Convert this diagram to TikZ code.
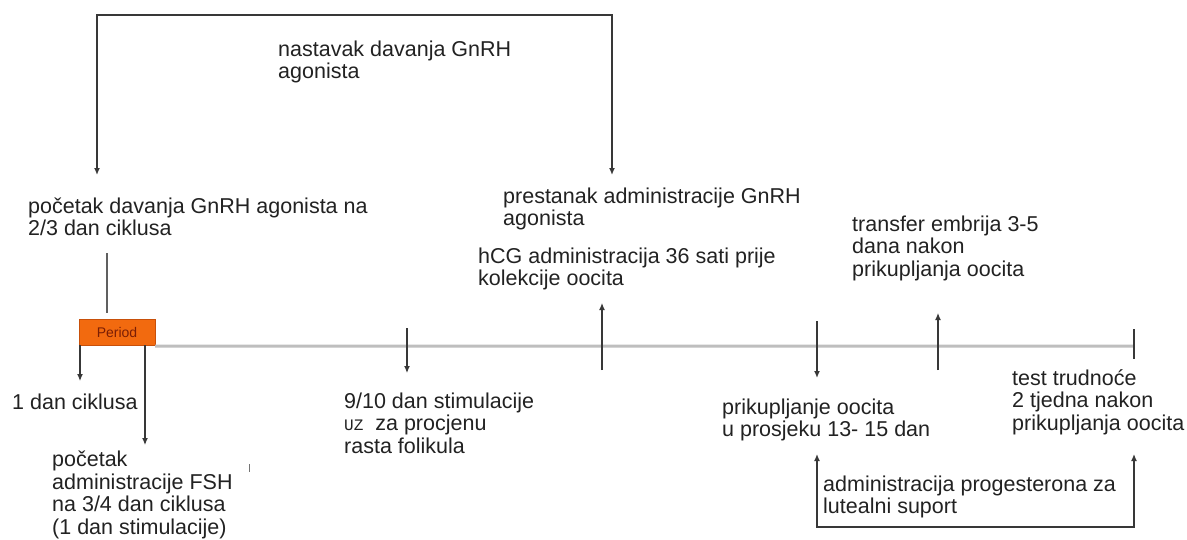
\documentclass[tikz,border=0pt]{standalone}
\usepackage{fontspec}
\setmainfont{Liberation Sans}
\setmonofont{Liberation Mono}
\usetikzlibrary{arrows.meta}
\definecolor{txt}{HTML}{222222}
\definecolor{ln}{HTML}{383838}
\definecolor{tl}{HTML}{BEBEBE}
\definecolor{orng}{HTML}{F26A0F}
\definecolor{orngd}{HTML}{C8500A}
\definecolor{pertxt}{HTML}{7A1E05}
\tikzset{
  lbl/.style={anchor=base west, inner sep=0pt, align=left,
    font=\fontsize{21.5}{22.5}\selectfont, text=txt},
  conn/.style={draw=ln, line width=1.6pt},
  arr/.style={conn, -{Latex[length=7pt,width=6pt]}},
  arrb/.style={conn, {Latex[length=7pt,width=6pt]}-{Latex[length=7pt,width=6pt]}},
  timeline/.style={draw=tl, line width=3pt},
}
\begin{document}
\begin{tikzpicture}[x=1pt,y=-1pt]
\useasboundingbox (0,0) rectangle (1187,539);
\fill[white] (0,0) rectangle (1187,539);

% texts (positions are the baseline of the LAST line)
\node[lbl] (nast) at (278,78.5) {nastavak davanja GnRH\\agonista};
\node[lbl] (poc) at (28,235.5) {početak davanja GnRH agonista na\\2/3 dan ciklusa};
\node[lbl] (pres) at (503,225.5) {prestanak administracije GnRH\\agonista};
\node[lbl] (hcg) at (478,285.5) {hCG administracija 36 sati prije\\kolekcije oocita};
\node[lbl] (trans) at (852,276) {transfer embrija 3-5\\dana nakon\\prikupljanja oocita};
\node[lbl] (dan1) at (12,409) {1 dan ciklusa};
\node[lbl] (fsh) at (52,534) {početak\\administracije FSH\\na 3/4 dan ciklusa\\(1 dan stimulacije)};
\node[lbl] (uz) at (344,453) {9/10 dan stimulacije\\{\fontsize{16}{16}\selectfont\ttfamily UZ}\ \ za procjenu\\rasta folikula};
\node[lbl] (prik) at (722,436.5) {prikupljanje oocita\\u prosjeku 13- 15 dan};
\node[lbl] (test) at (1012,430) {test trudnoće\\2 tjedna nakon\\prikupljanja oocita};
\node[lbl] (prog) at (823,513.5) {administracija progesterona za\\lutealni suport};

% period box
\node[draw=orngd, fill=orng, minimum width=76pt, minimum height=26pt, inner sep=0pt,
  font=\fontsize{14}{14}\selectfont, text=pertxt] (per) at (117,332) {Period};

% coordinates
\coordinate (tend) at (1134,346);
\coordinate (tendt) at (1134,329);
\coordinate (tendb) at (1134,359);
\coordinate (topL) at (97,175);
\coordinate (topLc) at (97,15);
\coordinate (topRc) at (612,15);
\coordinate (topR) at (612,175);
\coordinate (vtop) at (107,253);
\coordinate (vbot) at (107,313);
\coordinate (d1a) at (80,345);
\coordinate (d1b) at (80,381);
\coordinate (fsha) at (145,345);
\coordinate (fshb) at (145,445);
\coordinate (uza) at (407,328);
\coordinate (uzb) at (407,373);
\coordinate (hcga) at (602,370);
\coordinate (hcgb) at (602,303);
\coordinate (prika) at (817,321);
\coordinate (prikb) at (817,378);
\coordinate (tra) at (938,370);
\coordinate (trb) at (938,313);
\coordinate (bL) at (817,454);
\coordinate (bLc) at (817,527);
\coordinate (bRc) at (1134,527);
\coordinate (bR) at (1134,454);
\coordinate (mka) at (249,464);
\coordinate (mkb) at (249,472);

% timeline
\draw[timeline] (per.south east) ++(0,1) -- (tend);
\draw[conn, line width=1.4pt] (tendt) -- (tendb);

% connectors
\draw[arrb] (topL) -- (topLc) -- (topRc) -- (topR);
\draw[conn, line width=1.2pt, draw=ln!80] (vtop) -- (vbot);
\draw[arr, line width=1.2pt] (d1a) -- (d1b);
\draw[arr, line width=1.2pt] (fsha) -- (fshb);
\draw[arr, line width=1.2pt] (uza) -- (uzb);
\draw[arr, line width=1.2pt] (hcga) -- (hcgb);
\draw[arr, line width=1.4pt] (prika) -- (prikb);
\draw[arr, line width=1.2pt] (tra) -- (trb);
\draw[arrb, line width=1.3pt] (bL) -- (bLc) -- (bRc) -- (bR);
\draw[conn, line width=1pt, draw=ln!70] (mka) -- (mkb);
\end{tikzpicture}
\end{document}
